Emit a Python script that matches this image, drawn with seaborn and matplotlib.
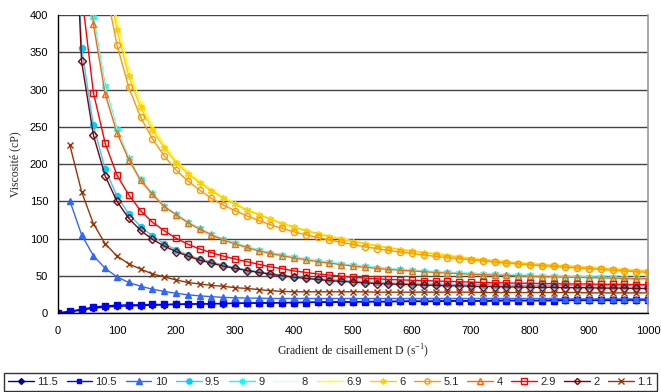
import numpy as np
import pandas as pd
import matplotlib
matplotlib.use('Agg')
import matplotlib.pyplot as plt
import seaborn as sns

# shear rate (s^-1), one marker every 20
D = list(range(20, 1001, 20))
D0 = [0] + D

v115 = [0, 1.5, 4, 6.5, 8, 9, 9.5, 10, 10.5, 11, 11.5,
        12, 12, 12.5, 12.5, 13, 13, 13.5, 13.5, 14, 14,
        14.5, 14.5, 15, 15, 15, 15.5, 15.5, 15.5, 16, 16,
        16, 16, 16.5, 16.5, 16.5, 16.5, 17, 17, 17, 17,
        17, 17.5, 17.5, 17.5, 17.5, 17.5, 18, 18, 18, 18]
v105 = [0, 2.5, 5, 8, 9.5, 10.5, 11, 11, 11.5, 11.5, 12,
        12, 12.5, 12.5, 13, 13, 13.5, 13.5, 13.5, 14, 14,
        14, 14.5, 14.5, 14.5, 15, 15, 15, 15, 15.5, 15.5,
        15.5, 15.5, 16, 16, 16, 16, 16, 16.5, 16.5, 16.5,
        16.5, 16.5, 17, 17, 17, 17, 17, 17, 17.5, 17.5]
v10 = [151, 105, 77, 60, 48.5, 41, 36, 32, 29, 26.5,
       24.5, 23, 22, 21, 20.5, 20, 20, 19.5, 19.5, 19.5,
       19.5, 19.5, 19.5, 19.5, 19.5, 19.5, 19.5, 19.5, 19.5, 19.5,
       19.5, 19.5, 19.5, 19.5, 19.5, 19.5, 19.5, 19.5, 19.5, 19.5,
       19.5, 19.5, 19, 19, 19, 19, 19, 19, 19, 19]
v95 = [740, 356, 252, 193, 157, 133, 116, 103.5, 93, 85,
       78, 72.5, 68.5, 64.5, 61, 58, 55.5, 53, 51, 49,
       47.5, 46, 45, 44, 43, 42, 41, 40.5, 40, 39.5,
       39, 39, 38.5, 38.5, 38, 38, 37.5, 37.5, 37.5, 37,
       37, 37, 37, 36.5, 36.5, 36.5, 36.5, 36.5, 36.5, 36.5]
v9 = [1180, 595, 398, 305, 247, 208.5, 179.5, 160.5, 144, 133,
      122.5, 113.5, 106, 99, 94, 89, 84.5, 81, 78, 75,
      72.5, 70, 68, 66, 64, 62.5, 61, 59.5, 58.5, 57.5,
      56.5, 55.5, 54.5, 54, 53, 52.5, 52, 51.5, 51, 50.5,
      50, 49.5, 49, 49, 48.5, 48, 48, 47.5, 47, 47]
v8 = [1165, 585, 393, 300, 245, 207, 179, 160, 143.5, 132.5,
      122, 113, 105.5, 98.5, 93.5, 88.5, 84, 80.5, 77.5, 74.5,
      72, 69.5, 67.5, 65.5, 63.5, 62, 60.5, 59, 58, 57,
      56, 55, 54, 53.5, 52.5, 52, 51.5, 51, 50.5, 50,
      49.5, 49, 48.5, 48.5, 48, 47.5, 47.5, 47, 46.5, 46.5]
v69 = [1960, 985, 655, 490, 392, 327, 283, 251, 226, 205,
       190, 177, 166, 156, 147.5, 139.5, 133, 127, 121, 116,
       111.5, 107.5, 103.5, 100, 97, 94, 91, 88.5, 86, 84,
       82, 80, 78, 76, 74, 72.5, 71, 69.5, 68, 67,
       66, 65, 64, 63, 62, 61, 60, 59, 58, 57]
v6 = [1900, 950, 630, 470, 380, 318, 276, 246, 222, 202,
      187, 175, 164, 154, 146, 138, 132, 126, 120, 115,
      110.5, 106.5, 102.5, 99, 96, 93, 90, 87.5, 85, 83,
      81, 79, 77, 75, 73, 71.5, 70, 68.5, 67, 66,
      65, 64, 63, 62, 61, 60, 59, 58, 57, 56]
v51 = [1750, 880, 590, 440, 360, 303, 263, 234, 211, 192,
       177.5, 165, 154, 145, 137.5, 130.5, 124.5, 118.5, 113.5, 109,
       105, 101.5, 98, 95, 92, 89, 86.5, 84, 82, 80,
       78, 76, 74.5, 73, 71.5, 70, 68.5, 67, 66, 64.5,
       63.5, 62.5, 61.5, 60.5, 59.5, 58.5, 57.5, 56.5, 55.5, 54.5]
v4 = [1150, 575, 388, 294, 242, 206, 178, 159.5, 143, 132,
      121.5, 112.5, 105, 98, 93, 88, 83.5, 80, 77, 74,
      71.5, 69, 67, 65, 63, 61.5, 60, 58.5, 57.5, 56.5,
      55.5, 54.5, 53.5, 53, 52, 51.5, 51, 50.5, 50, 49.5,
      49, 48.5, 48, 48, 47.5, 47, 47, 46.5, 46, 46]
v29 = [800, 430, 296, 228, 185, 158.5, 137.5, 122, 110.5, 100.5,
       92.5, 86, 81, 76.5, 72.5, 69, 65.5, 62, 59.5, 56.5,
       54.5, 52.5, 51, 49.5, 48, 47, 46, 45, 44.5, 44,
       43.5, 43, 42.5, 42, 41.5, 41, 40.5, 40.5, 40, 40,
       39.5, 39.5, 39, 39, 39, 38.5, 38.5, 38.5, 38, 38]
v2 = [700, 338, 239, 184, 150, 127, 111, 99, 90, 82.5,
      76.5, 71, 67, 63, 60, 57, 54.5, 52, 50, 48,
      46.5, 45, 43.5, 42.5, 41.5, 40.5, 39.5, 39, 38.5, 38,
      37.5, 37, 36.5, 36.5, 36, 35.5, 35.5, 35, 35, 34.5,
      34.5, 34.5, 34, 34, 34, 33.5, 33.5, 33.5, 33, 33]
v11 = [226, 163, 120, 93, 76.5, 66, 59, 52.5, 48.5, 44.5,
       41, 39, 37, 36, 34, 33, 31.5, 30, 29, 28.5,
       28.5, 28.5, 28.5, 28.5, 28.5, 28.5, 28, 28, 28, 28,
       28, 28, 28, 28, 28, 27.5, 27.5, 27.5, 27.5, 27.5,
       27.5, 27.5, 27.5, 27.5, 27, 27, 27, 27, 27, 27]

star = (6, 2, 0)
# label, x, y, line colour, marker, marker face, marker edge, marker size
series = [
    ('11.5', D0, v115, '#000080', 'D', '#000080', '#000080', 3.5),
    ('10.5', D0, v105, '#0000FF', 's', '#0000FF', '#0000FF', 4.2),
    ('10', D, v10, '#3366FF', '^', '#3366FF', '#3366FF', 4.6),
    ('9.5', D, v95, '#33CCFF', 'o', '#00CCFF', '#00CCFF', 4.4),
    ('9', D, v9, '#00FFFF', star, '#00FFFF', '#00FFFF', 5),
    ('8', D, v8, '#CCFFFF', None, '#CCFFFF', '#CCFFFF', 4),
    ('6.9', D, v69, '#FFFF00', '_', '#FFFF00', '#FFFF00', 3.5),
    ('6', D, v6, '#FFCC00', star, '#FFCC00', '#FFCC00', 5),
    ('5.1', D, v51, '#FF9900', 'o', 'none', '#FF9900', 4.4),
    ('4', D, v4, '#FF6600', '^', 'none', '#FF6600', 4.6),
    ('2.9', D, v29, '#FF0000', 's', 'none', '#FF0000', 4.4),
    ('2', D, v2, '#800000', 'D', 'none', '#800000', 3.6),
    ('1.1', D, v11, '#993300', 'x', '#993300', '#993300', 4.4),
]

sns.set_style('white')
plt.rcParams['font.family'] = ['Liberation Sans', 'DejaVu Sans']

fig = plt.figure(figsize=(6.61, 3.92), dpi=100)
ax = fig.add_axes([0.0877, 0.2015, 0.8925, 0.760])

for name, xs, ys, col, mk, mfc, mec, ms in series:
    sns.lineplot(x=xs, y=ys, ax=ax, color=col, lw=1.0, marker=mk,
                 markersize=ms, markerfacecolor=mfc, markeredgecolor=mec,
                 markeredgewidth=1.0, label=name, legend=False,
                 estimator=None, sort=False)

ax.set_xlim(0, 1000)
ax.set_ylim(0, 400)
ax.set_xticks(np.arange(0, 1001, 100))
ax.set_yticks(np.arange(0, 401, 50))
ax.yaxis.grid(True, color='#444444', lw=1.0)
ax.xaxis.grid(False)
ax.set_axisbelow(True)

for s in ['left', 'bottom']:
    ax.spines[s].set_color('black')
    ax.spines[s].set_linewidth(1.0)
ax.spines['top'].set_visible(False)
ax.spines['right'].set_color('#999999')
ax.spines['right'].set_linewidth(1.2)

ax.tick_params(axis='both', direction='out', length=4, width=1,
               colors='black', labelsize=8, pad=3)
ax.tick_params(axis='x', pad=5)

ax.set_xlabel('Gradient de cisaillement D (s$^{\\mathregular{-1}}$)',
              family='Liberation Serif', fontsize=8.5, labelpad=5)
ax.set_ylabel('Viscosité (cP)', family='Liberation Serif', fontsize=8.5,
              labelpad=6)

handles, labels = ax.get_legend_handles_labels()
leg = fig.legend(handles, labels, loc='lower center', ncol=13,
                 bbox_to_anchor=(0.5, 0.003), fontsize=8, frameon=True,
                 fancybox=False, edgecolor='black', handlelength=2.3,
                 handletextpad=0.3, columnspacing=0.8, borderpad=0.35,
                 borderaxespad=0.0, markerscale=0.85)
leg.get_frame().set_linewidth(1.0)

fig.savefig('out.png', dpi=100)
